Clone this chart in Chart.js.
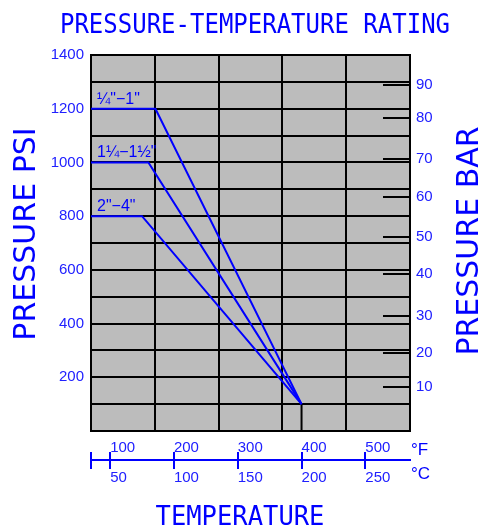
<!DOCTYPE html>
<html>
<head>
<meta charset="utf-8">
<script src="https://cdn.jsdelivr.net/npm/chart.js@4.4.1/dist/chart.umd.min.js"></script>
<style>
html, body { margin: 0; padding: 0; background: #fff; }
#wrap { width: 484px; height: 526px; position: relative; }
</style>
</head>
<body>
<div id="wrap"><canvas id="rating"></canvas></div>
<script>
// temperatures in °F, pressures in psi
var seriesNames = ['\u00BC"\u22121"', '1\u00BC\u22121\u00BD"', '2"\u22124"'];
var seriesTemp = [
  [70, 171, 400],
  [70, 160, 400],
  [70, 150, 400]
];
var seriesPsi = [
  [1200, 1200, 100],
  [1000, 1000, 100],
  [800, 800, 100]
];
var stemTemp = [400, 400];
var stemPsi = [0, 100];

var gridTempF = [70, 170, 270, 370, 470, 570];
var tickTempF = [100, 200, 300, 400, 500];
var tickLabelsF = ['100', '200', '300', '400', '500'];
var tickLabelsC = ['50', '100', '150', '200', '250'];
var psiTickLabels = [200, 400, 600, 800, 1000, 1200, 1400];
var barTickPsi = [164, 290, 428, 585, 722, 871, 1013, 1165, 1288];
var barTickLabels = ['10', '20', '30', '40', '50', '60', '70', '80', '90'];

var BLUE = '#0000ff';
var TICKBLUE = '#2020ff';
var tickFont = { family: 'Liberation Sans', size: 15 };

var datasets = seriesNames.map(function (name, s) {
  return {
    label: name,
    data: seriesTemp[s].map(function (t, i) { return { x: t, y: seriesPsi[s][i] }; }),
    borderColor: BLUE,
    borderWidth: 2,
    pointRadius: 0,
    showLine: true,
    xAxisID: 'x',
    yAxisID: 'y'
  };
});
datasets.push({
  label: 'stem',
  data: stemTemp.map(function (t, i) { return { x: t, y: stemPsi[i] }; }),
  borderColor: '#000',
  borderWidth: 2,
  pointRadius: 0,
  showLine: true,
  xAxisID: 'x',
  yAxisID: 'y'
});

var decor = {
  id: 'decor',
  beforeDraw: function (chart) {
    var a = chart.chartArea, ctx = chart.ctx;
    ctx.save();
    ctx.fillStyle = '#bcbcbc';
    ctx.fillRect(a.left, a.top, a.right - a.left, a.bottom - a.top);
    ctx.restore();
  },
  afterDraw: function (chart) {
    var ctx = chart.ctx;
    var xs = chart.scales.x, ys = chart.scales.y, xc = chart.scales.xC;
    ctx.save();
    ctx.fillStyle = BLUE;

    // main title
    ctx.save();
    ctx.font = '24px "DejaVu Sans Mono"';
    ctx.textAlign = 'center';
    ctx.textBaseline = 'alphabetic';
    ctx.translate(255, 33);
    ctx.scale(1, 1.14);
    ctx.fillText('PRESSURE-TEMPERATURE RATING', 0, 0);
    ctx.restore();

    // bottom title
    ctx.save();
    ctx.font = '25.5px "DejaVu Sans Mono"';
    ctx.textAlign = 'center';
    ctx.textBaseline = 'alphabetic';
    ctx.translate(240, 525);
    ctx.scale(1, 1.07);
    ctx.fillText('TEMPERATURE', 0, 0);
    ctx.restore();

    // side titles
    ctx.font = '30px "DejaVu Sans"';
    ctx.textAlign = 'center';
    ctx.textBaseline = 'middle';
    ctx.save();
    ctx.translate(27, 234);
    ctx.rotate(-Math.PI / 2);
    ctx.fillText('PRESSURE PSI', 0, 0);
    ctx.restore();
    ctx.save();
    ctx.translate(470, 241);
    ctx.rotate(-Math.PI / 2);
    ctx.fillText('PRESSURE BAR', 0, 0);
    ctx.restore();

    // unit marks
    ctx.font = '17px "Liberation Sans"';
    ctx.textAlign = 'left';
    ctx.textBaseline = 'alphabetic';
    ctx.fillText('\u00B0F', 411, 455);
    ctx.fillText('\u00B0C', 411, 479);

    // upper halves of the temperature ticks
    ctx.strokeStyle = BLUE;
    ctx.lineWidth = 2;
    xc.ticks.forEach(function (t) {
      var px = Math.round(xc.getPixelForValue(t.value));
      ctx.beginPath();
      ctx.moveTo(px, xc.top - 8);
      ctx.lineTo(px, xc.top);
      ctx.stroke();
    });

    // size labels over the plateaus
    ctx.font = '16px "Liberation Sans"';
    ctx.fillStyle = BLUE;
    seriesNames.forEach(function (name, s) {
      var px = xs.getPixelForValue(seriesTemp[s][0]) + 6;
      var py = ys.getPixelForValue(seriesPsi[s][0]) - 5;
      ctx.fillText(name, px, py);
    });
    ctx.restore();
  }
};

new Chart(document.getElementById('rating'), {
  type: 'scatter',
  data: { datasets: datasets },
  plugins: [decor],
  options: {
    responsive: true,
    maintainAspectRatio: false,
    animation: false,
    layout: { padding: { top: 55, left: 0, right: 0, bottom: 0 } },
    plugins: { legend: { display: false }, tooltip: { enabled: false }, title: { display: false } },
    scales: {
      x: {
        type: 'linear', position: 'bottom', weight: 0,
        min: 70, max: 570,
        afterBuildTicks: function (s) { s.ticks = gridTempF.map(function (v) { return { value: v }; }); },
        ticks: { display: false },
        grid: { color: '#000', lineWidth: 2, drawTicks: false },
        border: { color: '#000', width: 2 }
      },
      xF: {
        type: 'linear', position: 'bottom', weight: 1,
        min: 70, max: 570,
        afterBuildTicks: function (s) { s.ticks = tickTempF.map(function (v) { return { value: v }; }); },
        afterFit: function (s) { s.height = 29; },
        ticks: {
          align: 'start', padding: 8, color: TICKBLUE, font: tickFont, autoSkip: false, maxRotation: 0,
          callback: function (v, i) { return tickLabelsF[i]; }
        },
        grid: { display: false, drawTicks: false },
        border: { display: false }
      },
      xC: {
        type: 'linear', position: 'bottom', weight: 2,
        min: 70, max: 570,
        afterBuildTicks: function (s) {
          s.ticks = [gridTempF[0]].concat(tickTempF).map(function (v) { return { value: v }; });
        },
        afterFit: function (s) { s.height = 66; },
        ticks: {
          align: 'start', padding: 0, color: TICKBLUE, font: tickFont, autoSkip: false, maxRotation: 0,
          callback: function (v) {
            var k = tickTempF.indexOf(v);
            return k < 0 ? '' : tickLabelsC[k];
          }
        },
        grid: { display: true, drawOnChartArea: false, drawTicks: true, tickLength: 9, color: BLUE, lineWidth: 2 },
        border: { display: true, color: BLUE, width: 2 }
      },
      y: {
        type: 'linear', position: 'left',
        min: 0, max: 1400,
        afterFit: function (s) { s.width = 91; },
        ticks: {
          stepSize: 100, padding: 7, color: TICKBLUE, font: tickFont, autoSkip: false,
          callback: function (v) { return psiTickLabels.indexOf(v) < 0 ? '' : String(v); }
        },
        grid: { color: '#000', lineWidth: 2, drawTicks: false },
        border: { color: '#000', width: 2 }
      },
      yBar: {
        type: 'linear', position: 'right',
        min: 0, max: 1400,
        afterBuildTicks: function (s) { s.ticks = barTickPsi.map(function (v) { return { value: v }; }); },
        afterFit: function (s) { s.width = 74; },
        ticks: {
          padding: 33, color: TICKBLUE, font: tickFont, autoSkip: false,
          callback: function (v, i) { return barTickLabels[i]; }
        },
        grid: { display: true, drawOnChartArea: false, drawTicks: true, tickLength: -27, color: '#000', lineWidth: 2 },
        border: { display: true, color: '#000', width: 2 }
      }
    }
  }
});
</script>
</body>
</html>
